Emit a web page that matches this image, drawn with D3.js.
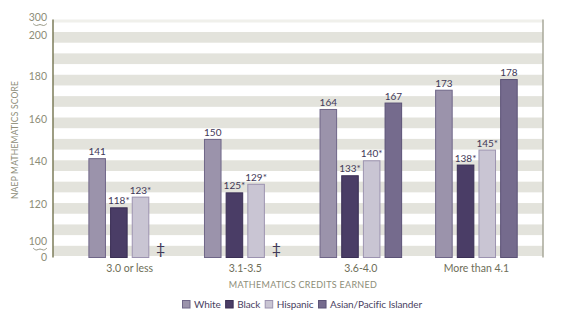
<!DOCTYPE html>
<html>
<head>
<meta charset="utf-8">
<script src="https://cdn.jsdelivr.net/npm/d3@7"></script>
<style>
  html, body { margin: 0; padding: 0; background: #fff; }
  svg { display: block; font-family: "Lato", "Open Sans", sans-serif; }
</style>
</head>
<body>
<svg id="chart" width="564" height="327"></svg>
<script>
// Average NAEP mathematics score by credits earned and race/ethnicity
const categories = ["3.0 or less", "3.1-3.5", "3.6-4.0", "More than 4.1"];
const series = ["White", "Black", "Hispanic", "Asian/Pacific Islander"];
const white    = [141, 150, 164, 173];
const black    = [118, 125, 133, 138];
const hispanic = [123, 129, 140, 145];
const asianPI  = [null, null, 167, 178];   // null: reporting standards not met
const flagged  = [
  [false, false, false, false],
  [true, true, true, true],
  [true, true, true, true],
  [false, false, false, false]
];
const yTickValues = [0, 100, 120, 140, 160, 180, 200, 300];
const yTickLabels = ["0", "100", "120", "140", "160", "180", "200", "300"];

const values = [white, black, hispanic, asianPI];
const fills   = ["#9b93ab", "#4a3d66", "#c9c5d3", "#756b8d"];
const strokes = ["#6f6688", "#3a2f55", "#9c93b0", "#5b5276"];

const svg = d3.select("#chart");
const plot = { left: 53, right: 543, top: 19.5, bottom: 257.5 };

// Broken value axis: 0 and 300 are compressed, 100–200 is linear
const y = d3.scaleLinear()
  .domain([0, 100, 200, 300])
  .range([plot.bottom, 245.8, 32, plot.top]);

const x0 = d3.scaleBand().domain(categories).range([88.4, 517.7]).paddingInner(0.2855);
const x1 = d3.scaleBand().domain(series).range([0, x0.bandwidth()]).paddingInner(0.19);

// Background stripes
const stripes = svg.append("g");
stripes.append("rect")
  .attr("x", plot.left).attr("width", plot.right - plot.left)
  .attr("y", plot.top).attr("height", 3)
  .attr("fill", "#f0f0eb");
const bandStarts = d3.range(105, 200, 10);
stripes.selectAll("rect.band").data(bandStarts).join("rect")
  .attr("class", "band")
  .attr("x", plot.left).attr("width", plot.right - plot.left)
  .attr("y", d => y(d + 5)).attr("height", d => y(d) - y(d + 5))
  .attr("fill", "#e3e3dc");
stripes.append("rect")
  .attr("x", plot.left).attr("width", plot.right - plot.left)
  .attr("y", y(100)).attr("height", y(0) - y(100) - 1.5)
  .attr("fill", "#e3e3dc");

// Frame lines
svg.append("line")
  .attr("x1", plot.right).attr("x2", plot.right)
  .attr("y1", plot.top).attr("y2", plot.bottom)
  .attr("stroke", "#a9a99a").attr("stroke-width", 1.5);

// Bars
const rows = categories.map((c, i) => ({
  cat: c,
  items: series.map((s, j) => ({ s, j, v: values[j][i], star: flagged[j][i] }))
}));

const groups = svg.append("g").selectAll("g").data(rows).join("g")
  .attr("transform", d => `translate(${x0(d.cat)},0)`);

groups.selectAll("rect").data(d => d.items.filter(e => e.v != null)).join("rect")
  .attr("x", d => x1(d.s) + 0.5)
  .attr("width", x1.bandwidth() - 1)
  .attr("y", d => y(d.v) + 0.5)
  .attr("height", d => y(0) - y(d.v) - 0.5)
  .attr("fill", d => fills[d.j])
  .attr("stroke", d => strokes[d.j])
  .attr("stroke-width", 1);

groups.selectAll("text.val").data(d => d.items.filter(e => e.v != null)).join("text")
  .attr("class", "val")
  .attr("x", d => x1(d.s) + x1.bandwidth() / 2)
  .attr("y", d => y(d.v) - 3)
  .attr("text-anchor", "middle")
  .attr("font-size", 10)
  .attr("fill", "#3f3858")
  .text(d => d.v + (d.star ? "*" : ""));

// Double dagger where estimates are not reported
groups.selectAll("text.na").data(d => d.items.filter(e => e.v == null)).join("text")
  .attr("class", "na")
  .attr("x", d => x1(d.s) + x1.bandwidth() / 2 - 1.5)
  .attr("y", y(0) - 4)
  .attr("text-anchor", "middle")
  .attr("font-size", 16)
  .attr("fill", "#3f3858")
  .text("\u2021");

// Value axis
svg.append("line")
  .attr("x1", plot.left).attr("x2", plot.left)
  .attr("y1", plot.top).attr("y2", plot.bottom)
  .attr("stroke", "#7d7d5a").attr("stroke-width", 1.5);

const labelShift = { 0: 0, 100: -4.5, 200: 3, 300: -2.5 };
svg.append("g").selectAll("text").data(yTickValues).join("text")
  .attr("x", 47)
  .attr("y", (d) => y(d) + (labelShift[d] !== undefined ? labelShift[d] : 1.5))
  .attr("dy", "0.35em")
  .attr("text-anchor", "end")
  .attr("font-size", 10.5)
  .attr("fill", "#8d8d78")
  .text((d, i) => yTickLabels[i]);

// Axis break marks
const wave = d3.line().curve(d3.curveBasis);
[25, 249.5].forEach(cy => {
  const pts = [[33, cy - 1.5], [36.5, cy + 1.5], [40, cy - 1.5], [43.5, cy + 1.5], [47, cy - 1.5]];
  svg.append("path").attr("d", wave(pts))
    .attr("fill", "none").attr("stroke", "#8d8d78").attr("stroke-width", 0.9);
});

svg.append("text")
  .attr("transform", `translate(18,140) rotate(-90)`)
  .attr("text-anchor", "middle")
  .attr("font-size", 8.5)
  .attr("letter-spacing", 0.2)
  .attr("fill", "#8d8d78")
  .text("NAEP MATHEMATICS SCORE");

// Category axis
svg.append("g").selectAll("text").data(categories).join("text")
  .attr("x", d => x0(d) + x0.bandwidth() / 2)
  .attr("y", 272)
  .attr("text-anchor", "middle")
  .attr("font-size", 10.5)
  .attr("fill", "#6e6e58")
  .text(d => d);

svg.append("text")
  .attr("x", 303).attr("y", 288)
  .attr("text-anchor", "middle")
  .attr("font-size", 9)
  .attr("letter-spacing", 0.3)
  .attr("fill", "#8d8d78")
  .text("MATHEMATICS CREDITS EARNED");

// Legend
const legend = svg.append("g").attr("transform", "translate(182,300)");
let lx = 0;
series.forEach((s, j) => {
  const g = legend.append("g").attr("transform", `translate(${lx},0)`);
  g.append("rect").attr("x", 0.5).attr("y", 0.5).attr("width", 7.5).attr("height", 7.5)
    .attr("fill", fills[j]).attr("stroke", strokes[j]);
  const t = g.append("text").attr("x", 12).attr("y", 8)
    .attr("font-size", 10).attr("letter-spacing", -0.1).attr("fill", "#4a4262").text(s);
  lx += 12 + t.node().getComputedTextLength() + 4.5;
});
</script>
</body>
</html>
